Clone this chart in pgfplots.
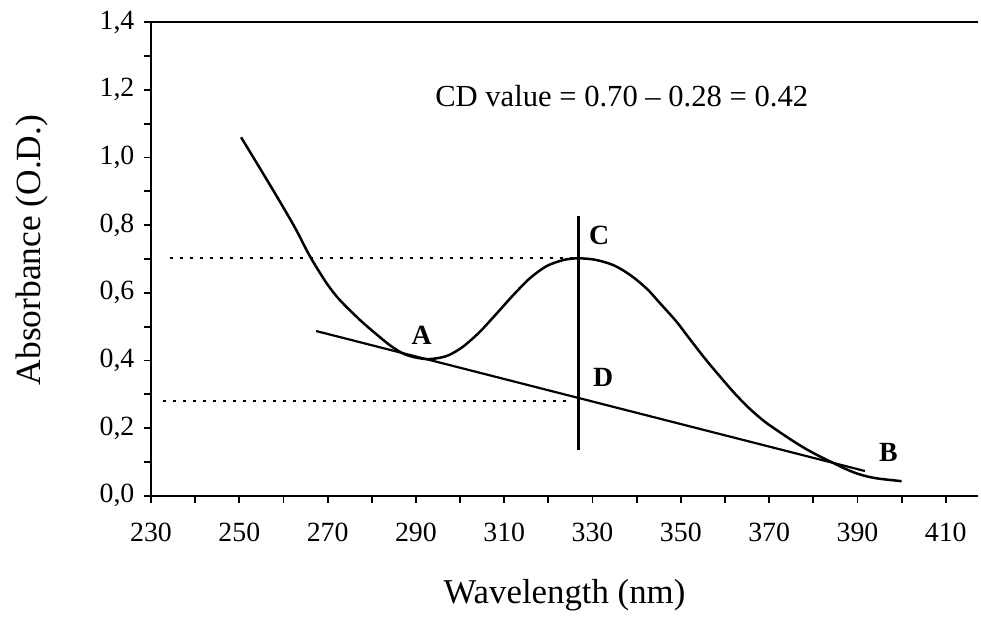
\documentclass[border=0pt]{standalone}
\usepackage{pgfplots}
\pgfplotsset{compat=1.18}
\usepackage{fontspec}
\setmainfont{Liberation Serif}
\begin{document}
\begin{tikzpicture}
\begin{axis}[
  at={(0,0)}, anchor=south west,
  scale only axis, width=413.5pt, height=236.7pt,
  xmin=230, xmax=417.3, ymin=0, ymax=1.4,
  axis x line*=bottom, axis y line*=left,
  axis line style={line width=1pt},
  every tick/.style={line width=0.9pt, black},
  tick align=outside,
  major tick length=3.6pt, minor tick length=3.6pt,
  xtick={230,250,...,410}, minor x tick num=1,
  ytick={0,0.2,...,1.41}, minor y tick num=1,
  /pgf/number format/assume math mode=true,
  yticklabel style={/pgf/number format/use comma, /pgf/number format/fixed, /pgf/number format/fixed zerofill, /pgf/number format/precision=1},
  xticklabel style={/pgf/number format/set thousands separator={}},
  ticklabel style={font=\fontsize{13.9}{16}\selectfont},
  yticklabel style={anchor=east, inner sep=0pt, xshift=-4.5pt},
  xticklabel style={anchor=base, inner sep=0pt, yshift=-19.5pt},
  xlabel={Wavelength (nm)}, ylabel={Absorbance (O.D.)},
  label style={font=\fontsize{17.4}{20}\selectfont},
  xlabel style={at={(axis description cs:0.5,-0.2267)}, anchor=base, inner sep=0pt},
  ylabel style={at={(axis description cs:-0.1342,0.519)}, anchor=base, inner sep=0pt, rotate=0, font=\fontsize{17.7}{20}\selectfont},
  clip=false,
]
% spectrum
\addplot[black, line width=1.25pt, smooth, tension=0.5] coordinates {
(250.4,1.060) (254.5,0.972) (258.5,0.885) (262.6,0.793) (266,0.708) (269.8,0.628)
(272.8,0.578) (277.3,0.520) (281,0.478) (284.1,0.445) (287,0.421) (289.5,0.410)
(292.4,0.404) (295,0.407) (297.5,0.416) (300.7,0.441) (304.5,0.485) (308.3,0.539)
(312.1,0.594) (315.8,0.643) (319.6,0.679) (323.4,0.697) (326.6,0.702) (330.5,0.698)
(334.7,0.682) (338.5,0.653) (342.3,0.612) (345.3,0.569) (349,0.515) (352.1,0.462)
(355.5,0.405) (358.9,0.352) (362.3,0.301) (365.7,0.256) (369,0.219) (372.5,0.187)
(375.5,0.161) (378.5,0.137) (381.5,0.116) (384.5,0.097) (387,0.081) (389.8,0.066)
(392.5,0.056) (395.1,0.050) (400,0.043)
};
% baseline tangent A-B
\addplot[black, line width=1.1pt] coordinates {(267.4,0.487) (391.7,0.073)};
% vertical line C-D
\addplot[black, line width=1.1pt] coordinates {(326.8,0.135) (326.8,0.827)};
% dotted guides
\addplot[black, line width=1pt, dash pattern=on 1.3pt off 3.7pt] coordinates {(234.3,0.702) (326.3,0.702)};
\addplot[black, line width=1pt, dash pattern=on 1.3pt off 3.7pt] coordinates {(232.8,0.280) (324.1,0.280)};
% top frame line
\draw[line width=1pt] (rel axis cs:0,1) -- (rel axis cs:1,1);
% labels
\node[font=\fontsize{13.9}{16}\selectfont\bfseries, inner sep=0pt] at (axis cs:291.3,0.473) {A};
\node[font=\fontsize{13.9}{16}\selectfont\bfseries, inner sep=0pt] at (axis cs:397.0,0.128) {B};
\node[font=\fontsize{13.9}{16}\selectfont\bfseries, inner sep=0pt] at (axis cs:331.5,0.769) {C};
\node[font=\fontsize{13.9}{16}\selectfont\bfseries, inner sep=0pt] at (axis cs:332.4,0.350) {D};
\node[font=\fontsize{15.3}{18}\selectfont, anchor=base west, inner sep=0pt] at (axis cs:294.3,1.150) {CD value = 0.70 -- 0.28 = 0.42};
\end{axis}
\pgfresetboundingbox
\useasboundingbox (-75.5pt,-60.65pt) rectangle (415pt,247.85pt);
\end{tikzpicture}
\end{document}
